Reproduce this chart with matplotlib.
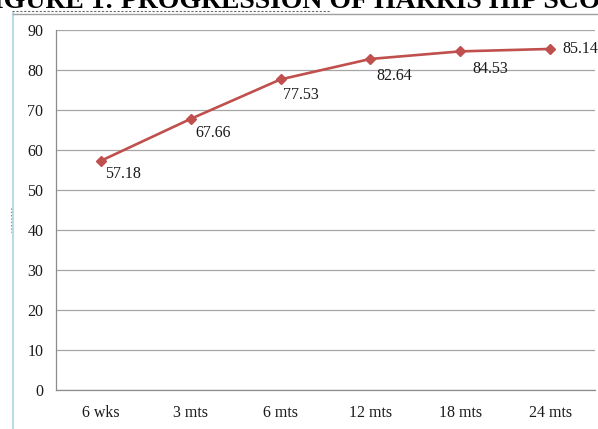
import matplotlib
matplotlib.use("Agg")
import matplotlib.pyplot as plt
from matplotlib.lines import Line2D

categories = ["6 wks", "3 mts", "6 mts", "12 mts", "18 mts", "24 mts"]
scores = [57.18, 67.66, 77.53, 82.64, 84.53, 85.14]
yticks = [0, 10, 20, 30, 40, 50, 60, 70, 80, 90]
title = "FIGURE 1: PROGRESSION OF HARRIS HIP SCORE"

# label offsets in points (style)
label_offsets = [(3, -9.5), (3, -10), (2, -11), (4, -12), (9, -13), (9, 0)]

W, H = 598, 429
fig = plt.figure(figsize=(W / 100, H / 100), dpi=100)
fig.patch.set_facecolor("white")

serif = ["Liberation Serif", "DejaVu Serif"]

# outer chart border
fig.add_artist(Line2D([13 / W, 13 / W], [0, 1 - 13 / H], transform=fig.transFigure,
                      color="#b9dde6", lw=1.5))
fig.add_artist(Line2D([13 / W, 1], [1 - 13.5 / H, 1 - 13.5 / H], transform=fig.transFigure,
                      color="#a0a0a0", lw=1.0))
fig.add_artist(Line2D([12 / W, 330 / W], [1 - 11 / H, 1 - 11 / H], transform=fig.transFigure,
                      color="#6a6a6a", lw=0.8, ls=(0, (2, 1.5))))
fig.add_artist(Line2D([11 / W, 11 / W], [1 - 208 / H, 1 - 232 / H], transform=fig.transFigure,
                      color="#777777", lw=0.8, ls=(0, (1, 2))))

# title (partly above the top edge, as in the reference)
fig.text(-24 / W, 1 - 7.5 / H, title, fontsize=20, fontweight="bold", family=serif,
         ha="left", va="baseline", color="black")

left, right = 56, 595
y0, y90 = 389.5, 29.5
ax = fig.add_axes([left / W, (H - y0) / H, (right - left) / W, (y0 - y90) / H])
ax.set_ylim(0, 90)
ax.set_xlim(-0.5, len(categories) - 0.5)
ax.set_yticks(yticks)
ax.set_xticks(range(len(categories)))
ax.set_xticklabels(categories)
ax.grid(axis="y", color="#a6a6a6", lw=0.9)
ax.set_axisbelow(True)
for s in ["top", "right"]:
    ax.spines[s].set_visible(False)
for s in ["left", "bottom"]:
    ax.spines[s].set_color("#8c8c8c")
    ax.spines[s].set_linewidth(0.9)
ax.tick_params(axis="both", length=0, labelsize=11.5, colors="#1a1a1a")
ax.tick_params(axis="y", pad=9)
ax.tick_params(axis="x", pad=11)
for lab in ax.get_xticklabels() + ax.get_yticklabels():
    lab.set_family(serif)

x = list(range(len(categories)))
ax.plot(x, scores, color="#C0504D", lw=1.9, marker="D", markersize=5.5, clip_on=False)

for xi, v, (dx, dy) in zip(x, scores, label_offsets):
    ax.annotate(f"{v:.2f}", (xi, v), xytext=(dx, dy), textcoords="offset points",
                ha="left", va="center", fontsize=11.5, family=serif, color="#1a1a1a",
                annotation_clip=False)

fig.savefig("out.png", dpi=100)
